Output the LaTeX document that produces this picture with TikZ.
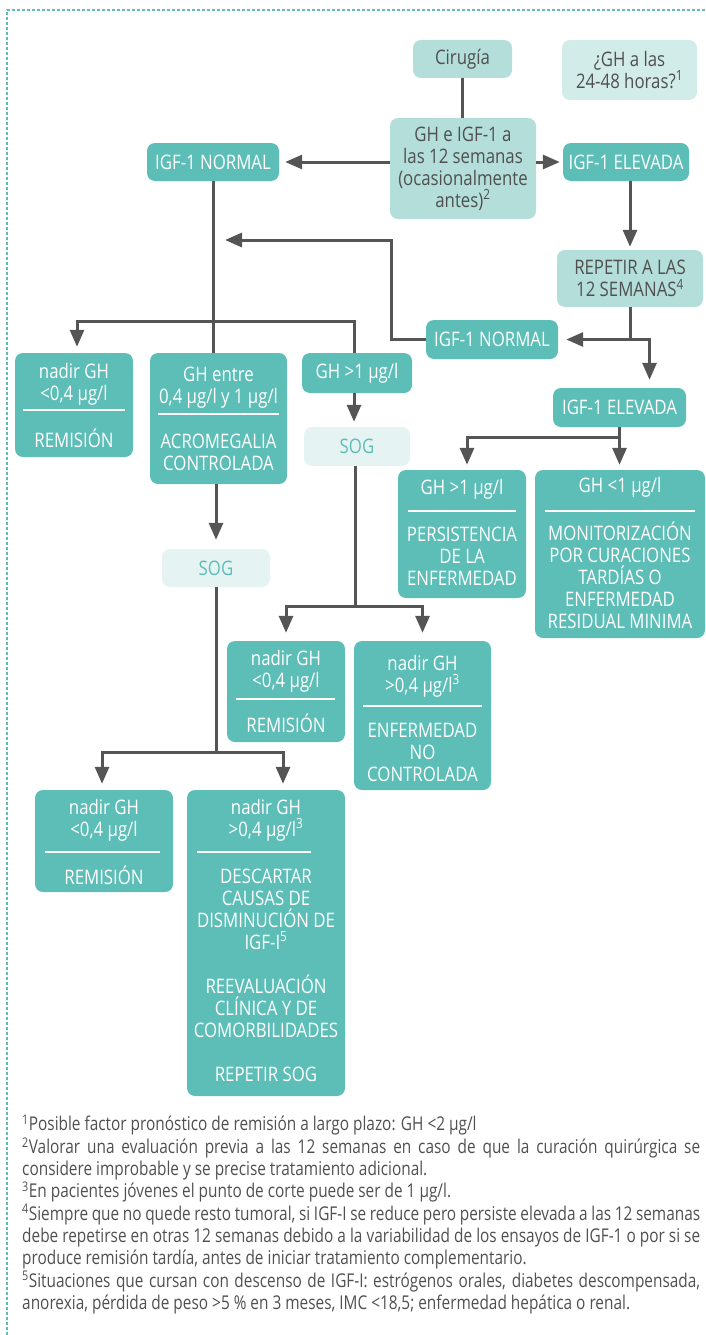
\documentclass[tikz,border=0pt]{standalone}
\usepackage{fontspec}
\setmainfont{Open Sans}[FakeStretch=0.84]
\newfontfamily\notefont{Open Sans}[FakeStretch=0.81]
\usetikzlibrary{arrows.meta}
\setlength\parindent{0pt}

\definecolor{tealdark}{RGB}{92,190,183}
\definecolor{teallight}{RGB}{179,222,218}
\definecolor{tealpale}{RGB}{210,236,233}
\definecolor{sogfill}{RGB}{229,244,243}
\definecolor{inkgray}{RGB}{80,80,80}
\definecolor{wiregray}{RGB}{85,85,85}

\newcommand\boxfont{\fontsize{20}{22}\selectfont}
\newcommand\sepy[3]{\draw[sep] (#1,#3) -- (#2,#3);}

\tikzset{
  box/.style={rounded corners=8pt, inner sep=0pt, align=center, font=\boxfont},
  dbox/.style={box, fill=tealdark, text=white},
  lbox/.style={box, fill=teallight, text=inkgray},
  pbox/.style={box, fill=tealpale, text=inkgray},
  sbox/.style={box, fill=sogfill, text=tealdark},
  wtxt/.style={align=center, font=\boxfont, inner sep=0pt, text=white},
  sep/.style={draw=white, line width=2pt},
  wire/.style={draw=wiregray, line width=3pt},
  arr/.style={wire, -{Triangle[length=17pt,width=14pt]}, shorten >=#1},
  arr/.default=8pt,
  frame/.style={draw=tealdark, line width=1.2pt, dash pattern=on 3pt off 2pt},
}

\begin{document}
\begin{tikzpicture}[x=1pt,y=-1pt]
\useasboundingbox (0,0) rectangle (706,1335);

% dashed frame
\draw[frame] (7,1335) -- (7,10) -- (706,10);

% top row
\node[lbox, minimum width=99pt, minimum height=38pt] (cir) at (462.5,59) {Cirugía};
\node[pbox, minimum width=135pt, minimum height=60pt] (gh24) at (629.5,70) {¿GH a las\\24-48 horas?\textsuperscript{1}};
\node[lbox, minimum width=146pt, minimum height=101pt] (ghigf) at (463,168.5) {GH e IGF-1 a\\las 12 semanas\\(ocasionalmente\\antes)\textsuperscript{2}};
\node[dbox, minimum width=132pt, minimum height=38pt] (n1) at (213,162) {IGF-1 NORMAL};
\node[dbox, minimum width=126pt, minimum height=38pt] (e1) at (626,162) {IGF-1 ELEVADA};
\node[lbox, minimum width=146pt, minimum height=57pt] (rep) at (630,278.5) {REPETIR A LAS\\12 SEMANAS\textsuperscript{4}};
\node[dbox, minimum width=132pt, minimum height=39pt] (n2) at (492,339.5) {IGF-1 NORMAL};
\node[dbox, minimum width=133pt, minimum height=39pt] (e2) at (619.5,407.5) {IGF-1 ELEVADA};

% branch under the first IGF-1 NORMAL
\node[dbox, minimum width=118pt, minimum height=104pt] (a) at (74,405) {};
\node[wtxt] (a1) at (74,384) {nadir GH\\<0,4 µg/l};
\sepy{23}{125}{410}
\node[wtxt] (a2) at (74,438) {REMISIÓN};

\node[dbox, minimum width=137pt, minimum height=131pt] (b) at (218.5,418.5) {};
\node[wtxt] (b1) at (218.5,388) {GH entre\\0,4 µg/l y 1 µg/l};
\sepy{158}{279}{414}
\node[wtxt] (b2) at (218.5,452) {ACROMEGALIA\\CONTROLADA};

\node[dbox, minimum width=110pt, minimum height=40pt] (c) at (357,373) {GH >1 µg/l};
\node[sbox, minimum width=106pt, minimum height=39pt] (sog1) at (357,446.5) {SOG};
\node[sbox, minimum width=108pt, minimum height=38pt] (sog2) at (216,568) {SOG};

% branch under the second IGF-1 ELEVADA
\node[dbox, minimum width=128pt, minimum height=128pt] (d) at (462,534) {};
\node[wtxt] (d1) at (462,489) {GH >1 µg/l};
\sepy{408}{516}{511}
\node[wtxt] (d2) at (462,556) {PERSISTENCIA\\DE LA\\ENFERMEDAD};

\node[dbox, minimum width=170pt, minimum height=168pt] (e) at (620,554) {};
\node[wtxt] (e1t) at (620,487) {GH <1 µg/l};
\sepy{545}{695}{511}
\node[wtxt] (e2t) at (620,575) {MONITORIZACIÓN\\POR CURACIONES\\TARDÍAS O\\ENFERMEDAD\\RESIDUAL MINIMA};

% outcomes of the first SOG
\node[dbox, minimum width=118pt, minimum height=101pt] (f) at (286,691.5) {};
\node[wtxt] (f1) at (286,671) {nadir GH\\<0,4 µg/l};
\sepy{236}{335}{699}
\node[wtxt] (f2) at (286,723) {REMISIÓN};

\node[dbox, minimum width=137pt, minimum height=149pt] (g) at (422.5,715.5) {};
\node[wtxt] (g1) at (422.5,676) {nadir GH\\>0,4 µg/l\textsuperscript{3}};
\sepy{363}{482}{706}
\node[wtxt] (g2) at (422.5,752) {ENFERMEDAD\\NO\\CONTROLADA};

% outcomes of the second SOG
\node[dbox, minimum width=138pt, minimum height=102pt] (h) at (104,841) {};
\node[wtxt] (h1) at (104,820) {nadir GH\\<0,4 µg/l};
\sepy{45}{160}{852}
\node[wtxt] (h2) at (104,875) {REMISIÓN};

\node[dbox, minimum width=158pt, minimum height=306pt] (i) at (266,943) {};
\node[wtxt] (i1) at (266,820) {nadir GH\\>0,4 µg/l\textsuperscript{3}};
\sepy{197}{311}{852}
\node[wtxt] (i2) at (266,975) {DESCARTAR\\CAUSAS DE\\DISMINUCIÓN DE\\IGF-I\textsuperscript{5}\\[22pt]REEVALUACIÓN\\CLÍNICA Y DE\\COMORBILIDADES\\[22pt]REPETIR SOG};

% connectors
\draw[wire] (cir.south) -- (cir.south |- ghigf.north);
\draw[arr=6pt] (ghigf.west |- n1.east) -- (n1.east);
\draw[arr=3pt] (ghigf.east |- e1.west) -- (e1.west);
\draw[arr=3pt] (rep.north |- e1.south) -- (rep.north);

\coordinate (r1) at (rep.south |- n2.east);
\coordinate (r2) at ([xshift=30pt]e2.north |- n2.east);
\draw[wire] (rep.south) -- (r1);
\draw[arr] (r1) -- (n2.east);
\draw[arr] (r1) -- (r2) -- (r2 |- e2.north);

\coordinate (l1) at ([xshift=-34pt]n2.west);
\draw[arr=12pt] (n2.west) -- (l1) |- (n1.south |- 0,240);

\coordinate (t1) at (n1.south |- 0,321);
\draw[wire] (n1.south) -- (n1.south |- b.north);
\draw[arr=6pt] ([xshift=0pt]t1) -| ([xshift=3pt]a.north);
\draw[wire] (t1) -| ([xshift=-3pt]c.north);

\draw[arr=5pt] ([xshift=-3pt]c.south) -- ([xshift=-3pt]sog1.north);
\coordinate (t2) at ([xshift=-2pt]sog1.south |- 0,606);
\draw[wire] ([xshift=-2pt]sog1.south) -- (t2);
\draw[arr] (t2) -| (f.north);
\draw[arr] (t2) -| (g.north);

\draw[arr=9pt] (sog2.north |- b.south) -- (sog2.north);
\coordinate (t3) at (sog2.south |- 0,752);
\draw[wire] (sog2.south) -- (t3);
\draw[arr=6pt] (t3) -| ([xshift=-2pt]h.north);
\draw[arr=6pt] (t3) -| ([xshift=17pt]i.north);

\coordinate (t4) at (e2.south |- 0,437);
\draw[arr=5pt] (e2.south) -- (e2.south |- e.north);
\draw[arr=5pt] (t4) -| ([xshift=5pt]d.north);

% footnotes
\node[anchor=north west, inner sep=0pt, text width=678pt, align=justify, text=inkgray,
      font=\notefont\fontsize{19}{22.3}\selectfont] (notes) at (22,1115) {%
\textsuperscript{1}Posible factor pronóstico de remisión a largo plazo: GH <2 µg/l\par
\textsuperscript{2}Valorar una evaluación previa a las 12 semanas en caso de que la curación quirúrgica se\linebreak
considere improbable y se precise tratamiento adicional.\par
\textsuperscript{3}En pacientes jóvenes el punto de corte puede ser de 1 µg/l.\par
\textsuperscript{4}Siempre que no quede resto tumoral, si IGF-I se reduce pero persiste elevada a las 12 semanas\linebreak
debe repetirse en otras 12 semanas debido a la variabilidad de los ensayos de IGF-1 o por si se\linebreak
produce remisión tardía, antes de iniciar tratamiento complementario.\par
\textsuperscript{5}Situaciones que cursan con descenso de IGF-I: estrógenos orales, diabetes descompensada,\linebreak
anorexia, pérdida de peso >5 \% en 3 meses, IMC <18,5; enfermedad hepática o renal.};
\end{tikzpicture}
\end{document}
